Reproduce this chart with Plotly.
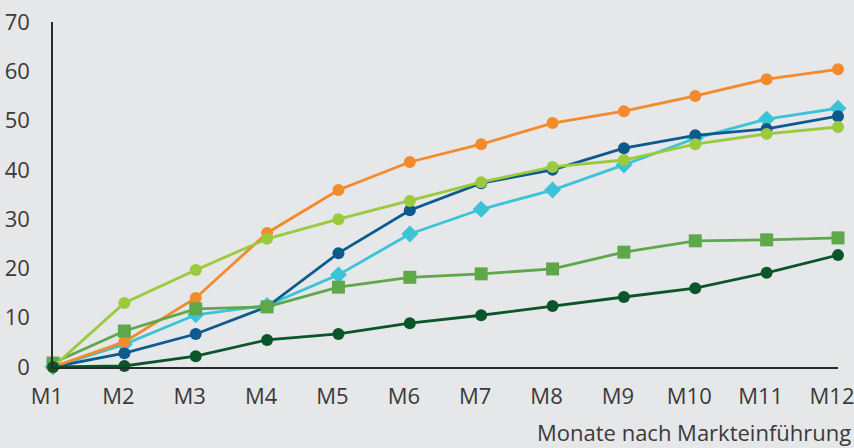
import plotly.graph_objects as go

months = ["M1", "M2", "M3", "M4", "M5", "M6", "M7", "M8", "M9", "M10", "M11", "M12"]
x_pos = list(range(1, 13))

orange = [0, 5.1, 14.0, 27.2, 35.9, 41.6, 45.2, 49.5, 51.9, 55.0, 58.4, 60.4]
light_green = [0, 13.0, 19.7, 26.0, 30.0, 33.7, 37.5, 40.6, 42.0, 45.2, 47.3, 48.7]
dark_blue = [0, 2.8, 6.7, 12.2, 23.1, 31.8, 37.3, 40.0, 44.4, 47.0, 48.3, 50.9]
cyan = [0, 4.6, 10.6, 12.5, 18.7, 27.0, 32.0, 35.9, 41.0, 46.4, 50.3, 52.5]
mid_green = [0.8, 7.3, 11.8, 12.2, 16.2, 18.2, 18.9, 19.9, 23.3, 25.6, 25.8, 26.2]
dark_green = [0, 0.2, 2.2, 5.5, 6.7, 8.9, 10.5, 12.4, 14.2, 16.0, 19.1, 22.7]

y_ticks = [0, 10, 20, 30, 40, 50, 60, 70]
x_title = "Monate nach Markteinführung"

series = [
    ("cyan", cyan, "#3bc3d7", "diamond", 13),
    ("dark_blue", dark_blue, "#0d5a8c", "circle", 12),
    ("orange", orange, "#f38a2b", "circle", 12),
    ("mid_green", mid_green, "#5ea84b", "square", 13),
    ("light_green", light_green, "#9bca3c", "circle", 12),
    ("dark_green", dark_green, "#0b552b", "circle", 12),
]

fig = go.Figure()
for name, vals, col, sym, sz in series:
    fig.add_trace(go.Scatter(
        x=x_pos, y=vals, mode="lines+markers", name=name,
        line=dict(color=col, width=2.8),
        marker=dict(color=col, symbol=sym, size=sz, line=dict(width=0)),
        cliponaxis=False, showlegend=False,
    ))

font_col = "#3a3a3a"
fig.update_layout(
    width=854, height=448,
    margin=dict(l=53, r=16, t=22, b=81),
    paper_bgcolor="#e6e7e9", plot_bgcolor="#e6e7e9",
    font=dict(family="'Open Sans', sans-serif", size=22, color=font_col),
    xaxis=dict(
        range=[1, 12], tickvals=x_pos, ticktext=months, automargin=False,
        showgrid=False, zeroline=False, showline=True, linecolor="#2a2a2a", linewidth=1.5,
        ticks="", ticklabelstandoff=9, ticklabeloverflow="allow", ticklabelshift=-6,
    ),
    yaxis=dict(
        range=[0, 70], tickvals=y_ticks, automargin=False,
        showgrid=False, zeroline=False, showline=True, linecolor="#2a2a2a", linewidth=1.5,
        ticks="", ticklabelstandoff=17,
    ),
    annotations=[dict(
        text=x_title, xref="paper", yref="paper", x=1, y=0,
        xanchor="right", yanchor="top", xshift=15, yshift=-48,
        showarrow=False, font=dict(size=22, color=font_col),
    )],
)

fig.write_html("out.html")
